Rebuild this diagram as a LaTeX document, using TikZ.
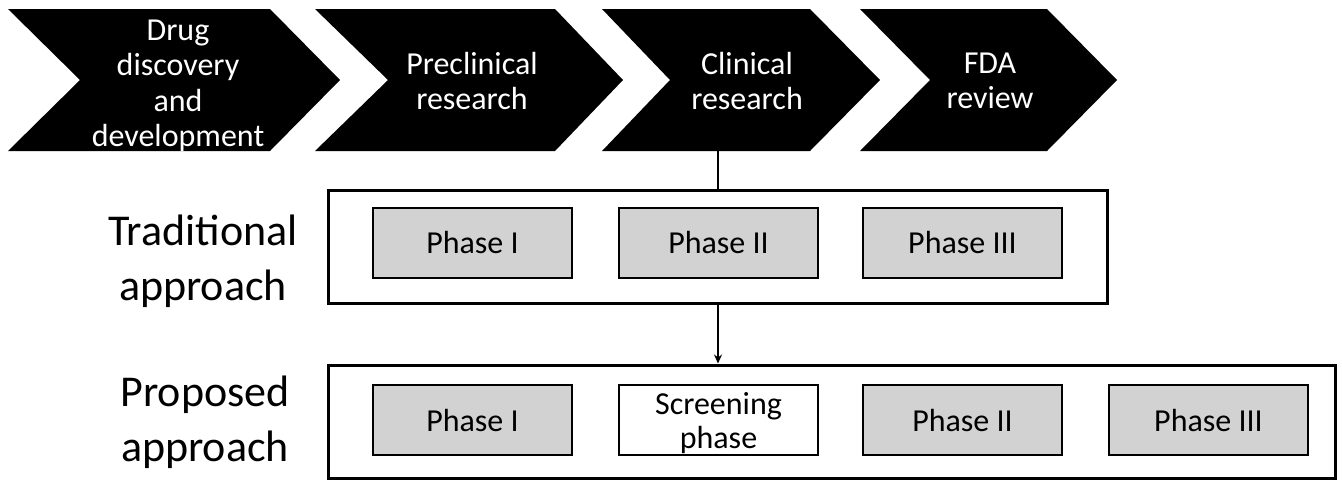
\documentclass[tikz,border=0pt]{standalone}
\usepackage{fontspec}
\setmainfont{Carlito}
\usetikzlibrary{positioning,shapes,arrows.meta}

\tikzset{
  stagetext/.style={text=white, align=center, font=\fontsize{32}{35.5}\selectfont},
  approach/.style={align=center, font=\fontsize{44}{55}\selectfont},
  frame/.style={draw, line width=3pt, minimum height=113pt, inner sep=0pt},
  phasebox/.style={draw, line width=2pt, fill=gray!35, minimum width=199pt, minimum height=70pt,
    inner sep=0pt, align=center, font=\fontsize{32}{34}\selectfont},
}

\begin{document}
\begin{tikzpicture}[x=1pt, y=-1pt]
      \useasboundingbox (0, 0) rectangle (1342, 483);
      \fill [black] (8, 9) -- (270, 9) -- (340, 80) -- (270, 151) -- (8, 151) -- (80, 80) -- cycle
                    (315, 9) -- (555, 9) -- (623, 80) -- (555, 151) -- (315, 151) -- (388, 80) -- cycle
                    (602, 9) -- (810, 9) -- (880, 80) -- (810, 151) -- (602, 151) -- (670, 80) -- cycle
                    (860, 9) -- (1047, 9) -- (1117, 80) -- (1047, 151) -- (860, 151) -- (930, 80) -- cycle;
      \draw (178, 86) node (drug) [stagetext] {Drug\\discovery\\and\\development}
            (472, 81) node (precl) [stagetext] {Preclinical\\research}
            (747, 81) node (clin) [stagetext] {Clinical\\research}
            (990, 81) node (fda) [stagetext] {FDA\\review};
      \coordinate (clinb) at (718, 151);
      \draw (203, 261) node (tlabel) [approach] {Traditional\\approach}
            (205, 422) node (plabel) [approach] {Proposed\\approach};
      \draw (717.5, 246.5) node (trad) [frame, minimum width=779pt] {}
            (831.5, 421.5) node (prop) [frame, minimum width=1007pt] {};
      \draw (472.5, 243) node (t1) [phasebox] {Phase I}
            (718.5, 243) node (t2) [phasebox] {Phase II}
            (962.5, 243) node (t3) [phasebox] {Phase III};
      \draw (472.5, 420) node (p1) [phasebox] {Phase I}
            (718.5, 420) node (p2) [phasebox, fill=white, text depth=0pt] {Screening\\phase}
            (962.5, 420) node (p3) [phasebox] {Phase II}
            (1208.5, 420) node (p4) [phasebox] {Phase III};
      \draw[line width=1.5pt] (clinb) -- (trad.north -| clinb);
      \draw[line width=1.5pt, -{Stealth[length=9pt, width=8pt]}] (trad.south -| clinb) -- (prop.north -| clinb);
\end{tikzpicture}
\end{document}
